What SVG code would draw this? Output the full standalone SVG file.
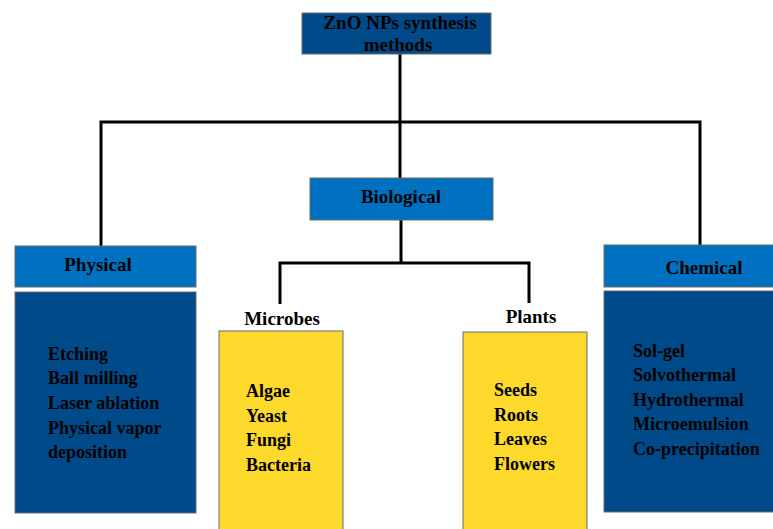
<svg xmlns="http://www.w3.org/2000/svg" width="773" height="529" viewBox="0 0 773 529">
<style>
.dark{fill:#004a8a;stroke:#6b6b6b;stroke-width:1}
.mid{fill:#0070c0;stroke:#6b6b6b;stroke-width:1}
.yel{fill:#fdd92c;stroke:#6b6b6b;stroke-width:1}
text{font-family:"Liberation Serif","Times New Roman",serif;font-weight:bold;fill:#000}
.h{font-size:19px;text-anchor:middle}
.b{font-size:18px}
.conn{fill:none;stroke:#000;stroke-width:3}
</style>
<rect width="773" height="529" fill="#fff"/>
<g id="connectors">
<path class="conn" d="M400 54V178"/>
<path class="conn" d="M101 246V122H700V245"/>
<path class="conn" d="M401 220V263"/>
<path class="conn" d="M280 304V263H529V303"/>
</g>
<g id="root">
<rect class="dark" x="302" y="13" width="189" height="41"/>
<text class="h" x="400" y="29">ZnO NPs synthesis</text>
<text class="h" x="398" y="51">methods</text>
</g>
<g id="biological">
<rect class="mid" x="310" y="178" width="183" height="42"/>
<text class="h" x="401" y="203">Biological</text>
</g>
<g id="physical">
<rect class="mid" x="15" y="246" width="181" height="41"/>
<text class="h" x="98" y="271">Physical</text>
</g>
<g id="physical-methods">
<rect class="dark" x="15" y="292" width="181" height="221"/>
<text class="b" x="48"><tspan x="48" y="360">Etching</tspan><tspan x="48" y="384">Ball milling</tspan><tspan x="48" y="409">Laser ablation</tspan><tspan x="48" y="434">Physical vapor</tspan><tspan x="48" y="458">deposition</tspan></text>
</g>
<g id="chemical">
<rect class="mid" x="604" y="245" width="172" height="42"/>
<text class="h" x="704" y="274">Chemical</text>
</g>
<g id="chemical-methods">
<rect class="dark" x="604" y="291" width="172" height="221"/>
<text class="b"><tspan x="633" y="357">Sol-gel</tspan><tspan x="633" y="381">Solvothermal</tspan><tspan x="633" y="406">Hydrothermal</tspan><tspan x="633" y="430">Microemulsion</tspan><tspan x="633" y="455">Co-precipitation</tspan></text>
</g>
<g id="microbes">
<text class="h" x="282" y="325">Microbes</text>
<rect class="yel" x="219" y="331" width="124" height="200"/>
<text class="b"><tspan x="246" y="397">Algae</tspan><tspan x="246" y="422">Yeast</tspan><tspan x="246" y="446">Fungi</tspan><tspan x="246" y="471">Bacteria</tspan></text>
</g>
<g id="plants">
<text class="h" x="531" y="323">Plants</text>
<rect class="yel" x="463" y="332" width="124" height="199"/>
<text class="b"><tspan x="494" y="396">Seeds</tspan><tspan x="494" y="421">Roots</tspan><tspan x="494" y="445">Leaves</tspan><tspan x="494" y="470">Flowers</tspan></text>
</g>
</svg>
